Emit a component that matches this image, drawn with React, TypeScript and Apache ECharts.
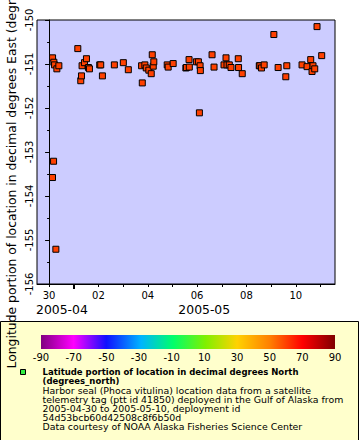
import React, { useEffect, useRef } from "react";
import * as echarts from "echarts";

// ---- data ----
const times: string[] = [
  "2005-04-30T03:23", "2005-04-30T03:20", "2005-04-30T04:22", "2005-04-30T04:39", "2005-04-30T05:20",
  "2005-04-30T06:36", "2005-04-30T07:34", "2005-04-30T09:30",
  "2005-05-01T03:56", "2005-05-01T06:50", "2005-05-01T07:31", "2005-05-01T08:05", "2005-05-01T10:25",
  "2005-05-01T12:22", "2005-05-01T14:18", "2005-05-01T15:16",
  "2005-05-02T01:16", "2005-05-02T02:14", "2005-05-02T03:53", "2005-05-02T15:30",
  "2005-05-03T00:14", "2005-05-03T05:05", "2005-05-03T17:59", "2005-05-03T18:40", "2005-05-03T21:11",
  "2005-05-03T22:32",
  "2005-05-04T01:03", "2005-05-04T03:23", "2005-05-04T04:22", "2005-05-04T05:20", "2005-05-04T05:54",
  "2005-05-04T18:55", "2005-05-04T19:52",
  "2005-05-05T00:43", "2005-05-05T13:05", "2005-05-05T13:38", "2005-05-05T16:10", "2005-05-05T16:25",
  "2005-05-05T23:20",
  "2005-05-06T01:16", "2005-05-06T02:14", "2005-05-06T02:55", "2005-05-06T03:10", "2005-05-06T14:33",
  "2005-05-06T16:29",
  "2005-05-07T02:11", "2005-05-07T04:07", "2005-05-07T05:05", "2005-05-07T07:19", "2005-05-07T08:58",
  "2005-05-07T16:03", "2005-05-07T16:20", "2005-05-07T19:55",
  "2005-05-08T12:30", "2005-05-08T13:05", "2005-05-08T14:38", "2005-05-08T17:15",
  "2005-05-09T02:40", "2005-05-09T06:50", "2005-05-09T14:18", "2005-05-09T15:16",
  "2005-05-10T06:06", "2005-05-10T10:57", "2005-05-10T14:33", "2005-05-10T15:49", "2005-05-10T16:47",
  "2005-05-10T18:26", "2005-05-10T20:40",
  "2005-05-11T01:13",
];
const longitudes: number[] = [
  -150.86, -153.58, -153.21, -150.96, -151.02,
  -155.21, -151.11, -151.04,
  -150.65, -151.38, -151.27, -151.04, -150.97,
  -150.88, -151.08, -151.11,
  -151.02, -151.02, -151.27, -151.02,
  -150.97, -151.13, -151.04, -151.43, -151.02,
  -151.09,
  -151.14, -151.22, -150.79, -151.05, -150.95,
  -151.02, -151.07,
  -150.99, -151.09, -151.08, -150.9, -151.07,
  -150.95,
  -150.95, -152.11, -151.04, -151.15, -150.79,
  -151.07,
  -151.02, -150.86, -151.02, -151.02, -151.08,
  -150.88, -151.08, -151.22,
  -151.04, -151.04, -151.09, -151.02,
  -150.33, -151.08, -151.29, -151.04,
  -151.02, -151.06, -150.9, -151.17, -151.04,
  -151.11, -150.15,
  -150.81,
];
const axisStart = "2005-04-30T00:00";
const xMinDay = -0.49;
const xMaxDay = 11.59;
const xTickDays = [0, 2, 4, 6, 8, 10];
const xTickLabels = ["30", "02", "04", "06", "08", "10"];
const xMinorDays = [0, 1, 2, 3, 4, 5, 6, 7, 8, 9, 10, 11];
const monthBoundaryDays = [1];
const monthLabelDays = [0.52, 6.29];
const monthLabels = ["2005-04", "2005-05"];
const yMin = -156;
const yMax = -150;
const colorbarTicks = [-90, -70, -50, -30, -10, 10, 30, 50, 70, 90];
const colorbarStops = [
  [0, "#800080"], [0.111, "#ff00ff"], [0.222, "#1010ff"], [0.34, "#00b4ff"],
  [0.45, "#00ff6a"], [0.56, "#80f000"], [0.667, "#ffd200"], [0.778, "#ff8000"],
  [0.889, "#ff0000"], [1, "#800000"],
];
const yAxisTitle = "Longitude portion of location in decimal degrees East (degrees_east)";
const legendBold = ["Latitude portion of location in decimal degrees North", "(degrees_north)"];
const legendLines = [
  "Harbor seal (Phoca vitulina) location data from a satellite",
  "telemetry tag (ptt id 41850) deployed in the Gulf of Alaska from",
  "2005-04-30 to 2005-05-10, deployment id",
  "54d53bcb60d42508c8f6b50d",
  "Data courtesy of NOAA Alaska Fisheries Science Center",
];

const FONT = "DejaVu Sans";
const DAY = 86400000;
const toDay = (s: string) => (Date.parse(s + ":00Z") - Date.parse(axisStart + ":00Z")) / DAY;

export default function App() {
  const ref = useRef<HTMLDivElement>(null);
  useEffect(() => {
    if (!ref.current) return;
    const chart = echarts.init(ref.current, null, { renderer: "svg" });
    const points = times.map((t, i) => [toDay(t), longitudes[i]]);

    const gridL = 37, gridT = 20, gridR = 335, gridB = 284;
    const cbX = 41, cbY = 335, cbW = 294, cbH = 14;

    const graphics: any[] = [
      {
        type: "rect",
        shape: { x: 0.5, y: 321.5, width: 358, height: 130 },
        style: { fill: "#ffffcc", stroke: "#000", lineWidth: 1 },
        z: 0,
      },
      {
        type: "rect",
        shape: { x: cbX, y: cbY, width: cbW, height: cbH },
        style: {
          fill: new echarts.graphic.LinearGradient(
            0, 0, 1, 0,
            colorbarStops.map(([o, c]) => ({ offset: o as number, color: c as string }))
          ),
        },
        z: 1,
      },
      ...colorbarTicks.map((v) => ({
        type: "text",
        x: cbX + ((v + 90) / 180) * cbW,
        y: 357.5,
        style: { text: String(v), font: `10px '${FONT}'`, fill: "#000", align: "center", verticalAlign: "middle" },
        z: 1,
      })),
      {
        type: "rect",
        shape: { x: 20.5, y: 369.5, width: 5, height: 5 },
        style: { fill: "#33ee44", stroke: "#000", lineWidth: 1 },
        z: 1,
      },
      ...legendBold.map((t, i) => ({
        type: "text",
        x: 42.5,
        y: 372.3 + i * 8.8,
        style: { text: t, font: `bold 8.5px '${FONT}'`, fill: "#000", align: "left", verticalAlign: "middle" },
        z: 1,
      })),
      ...legendLines.map((t, i) => ({
        type: "text",
        x: 42.5,
        y: 390 + i * 9.15,
        style: { text: t, font: `9.4px '${FONT}'`, fill: "#000", align: "left", verticalAlign: "middle" },
        z: 1,
      })),
      {
        type: "text",
        x: 11.5,
        y: 368.5,
        rotation: Math.PI / 2,
        style: { text: yAxisTitle, font: `12.4px '${FONT}'`, fill: "#000", align: "left", verticalAlign: "middle" },
        z: 5,
      },
    ];

    chart.setOption({
      animation: false,
      backgroundColor: "#fff",
      grid: {
        left: gridL, top: gridT, width: gridR - gridL, height: gridB - gridT,
        show: true, backgroundColor: "#ccccff", borderColor: "#000", borderWidth: 1,
      },
      xAxis: [
        {
          type: "value", min: xMinDay, max: xMaxDay,
          axisLine: { show: true, lineStyle: { color: "#000", width: 1 } },
          axisTick: { show: true, customValues: xMinorDays, length: 3, lineStyle: { color: "#000" } },
          axisLabel: {
            show: true, customValues: xTickDays, margin: 6.5,
            formatter: (v: number) => {
              const i = xTickDays.findIndex((d) => Math.abs(d - v) < 1e-6);
              return i >= 0 ? xTickLabels[i] : "";
            },
            fontFamily: FONT, fontSize: 10, color: "#000",
          },
          splitLine: { show: false },
        },
        {
          type: "value", min: xMinDay, max: xMaxDay, position: "bottom",
          axisLine: { show: false },
          axisTick: { show: true, customValues: monthBoundaryDays, length: 5, lineStyle: { color: "#000", width: 2 } },
          axisLabel: {
            show: true, customValues: monthLabelDays, margin: 19.5,
            formatter: (v: number) => {
              const i = monthLabelDays.findIndex((d) => Math.abs(d - v) < 1e-6);
              return i >= 0 ? monthLabels[i] : "";
            },
            fontFamily: FONT, fontSize: 12.4, color: "#000",
          },
          splitLine: { show: false },
        },
      ],
      yAxis: {
        type: "value", min: yMin, max: yMax, interval: 1,
        axisLine: { show: true, lineStyle: { color: "#000", width: 1 } },
        axisTick: { show: true, length: 4, lineStyle: { color: "#000" } },
        minorTick: { show: true, splitNumber: 2, length: 2, lineStyle: { color: "#000" } },
        axisLabel: {
          rotate: 90, margin: 3, fontFamily: FONT, fontSize: 10, color: "#000",
          formatter: (v: number) => String(v),
        },
        splitLine: { show: false },
      },
      series: [
        {
          type: "scatter",
          xAxisIndex: 0,
          data: points,
          symbol: "rect",
          symbolSize: 6,
          itemStyle: { color: "#ff4000", borderColor: "#000", borderWidth: 1, opacity: 1 },
          z: 3,
        },
      ],
      graphic: graphics,
    });
    return () => chart.dispose();
  }, []);
  return (
    <div
      ref={ref}
      style={{ position: "fixed", left: 0, top: 0, width: 360, height: 440 }}
    />
  );
}
